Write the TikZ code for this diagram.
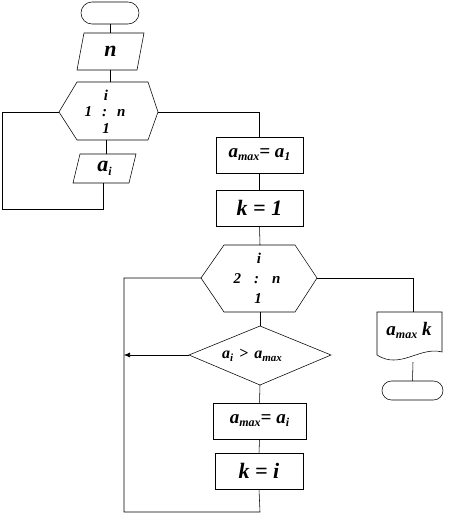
\documentclass[tikz,border=0pt]{standalone}
\usepackage{fontspec}
\setmainfont{Liberation Serif}
\usetikzlibrary{arrows.meta}
\newcommand\lo[2]{\raisebox{-0.35ex}{\fontsize{#1}{#1}\selectfont #2}}
\begin{document}
\begin{tikzpicture}[x=1pt,y=-1pt,line width=0.55pt,
  shp/.style={draw=black, line width=0.55pt},
  conn/.style={draw=black, line width=0.55pt},
  big/.style={font=\fontsize{22}{24}\selectfont\bfseries\itshape, inner sep=0},
  mid/.style={font=\fontsize{19}{21}\selectfont\bfseries\itshape, inner sep=0},
  sml/.style={font=\fontsize{15}{17}\selectfont\bfseries\itshape, inner sep=0},
  procbox/.style={shp, rectangle, inner sep=0},
  term/.style={shp, rectangle, inner sep=0}]
\useasboundingbox (0,0) rectangle (452,514);

% start terminal
\node[term, minimum width=58pt, minimum height=22pt, rounded corners=11pt] (start) at (110,13) {};

% input n
\draw[shp] (84,33) -- (144,33) -- (137,70) -- (77,70) -- cycle;
\node[big] (n) at (110.5,51.5) {n};
\coordinate (nT) at (110,33);
\coordinate (nB) at (110,70);

% hexagon 1
\draw[shp] (59,112) -- (77,82) -- (148,82) -- (158,112) -- (148,140) -- (77,140) -- cycle;
\node[sml] (h1a) at (106,95) {i};
\node[sml] (h1b) at (105,112) {1\hspace{10pt}:\hspace{10pt}n};
\node[sml] (h1c) at (106,129) {1};
\coordinate (h1T) at (110,82);
\coordinate (h1B) at (106,140);
\coordinate (h1L) at (59,112);
\coordinate (h1R) at (158,112);

% input a_i
\draw[shp] (80,154) -- (136,154) -- (129,183) -- (73,183) -- cycle;
\node[big] (ai) at (104.5,168.5) {a\lo{12}{i}};
\coordinate (aiT) at (106,154);
\coordinate (aiB) at (103,183);

% box amax = a1
\node[procbox, minimum width=87pt, minimum height=36pt] (b1) at (259.5,155) {};
\node[mid] at (b1) {a\lo{12}{max}= a\lo{12}{1}};
\node[procbox, minimum width=87pt, minimum height=36pt] (b2) at (259.5,208) {};
\node[big] at (b2) {k = 1};

% hexagon 2
\draw[shp] (201,278) -- (224,245) -- (295,245) -- (317,278) -- (295,312) -- (224,312) -- cycle;
\node[sml] (h2a) at (259,258) {i};
\node[sml] (h2b) at (257,279) {2\hspace{13pt}:\hspace{13pt}n};
\node[sml] (h2c) at (258,299) {1};
\coordinate (h2T) at (260,245);
\coordinate (h2B) at (260,312);
\coordinate (h2L) at (201,278);
\coordinate (h2R) at (317,278);

% diamond
\draw[shp] (189,355) -- (260,326) -- (331,355) -- (260,385) -- cycle;
\node[font=\fontsize{16}{18}\selectfont\bfseries\itshape, inner sep=0] (cond) at (252,355.5) {a\lo{11}{i}\hspace{6pt}\textgreater\hspace{6pt}a\lo{11}{max}};
\coordinate (dT) at (260,326);
\coordinate (dB) at (260,385);
\coordinate (dL) at (189,355);
\coordinate (arr) at (124,355);

% boxes in loop 2
\node[procbox, minimum width=93pt, minimum height=36pt] (b3) at (259.5,421) {};
\node[mid] at (b3) {a\lo{12}{max}= a\lo{12}{i}};
\node[procbox, minimum width=88pt, minimum height=36pt] (b4) at (259,471) {};
\node[big] at (b4) {k = i};

% output document
\draw[shp] (377,355) -- (377,312) -- (442,312) -- (442,352)
   .. controls (420,346) and (400,370) .. (377,355);
\node[mid] (out) at (409,330) {a\lo{12}{max} k};
\coordinate (docT) at (413,312);
\coordinate (docB) at (413,362);

% end terminal
\node[term, minimum width=61pt, minimum height=19pt, rounded corners=9.5pt] (end) at (412.5,390.5) {};

% connectors
\draw[conn] (start.south) -- (nT);
\draw[conn] (nB) -- (h1T);
\draw[conn] (h1B) -- (aiT);
\draw[conn] (aiB) -- (103,209) -- (2,209) -- (2,112) -- (h1L);
\draw[conn] (h1R) -- (b1.north |- h1R) -- (b1.north);
\draw[conn] (b1.south) -- (b2.north);
\draw[conn] (b2.south) -- (h2T);
\draw[conn] (h2B) -- (dT);
\draw[conn,-{Latex[length=6pt,width=5pt]}] (dL) -- (arr);
\draw[conn] (dB) -- (b3.north);
\draw[conn] (b3.south) -- (b4.north);
\draw[conn] (b4.south) -- (260,512) -- (124,512) -- (124,278) -- (h2L);
\draw[conn] (h2R) -- (413,278) -- (docT);
\draw[conn] (docB) -- (end.north);
\end{tikzpicture}
\end{document}
